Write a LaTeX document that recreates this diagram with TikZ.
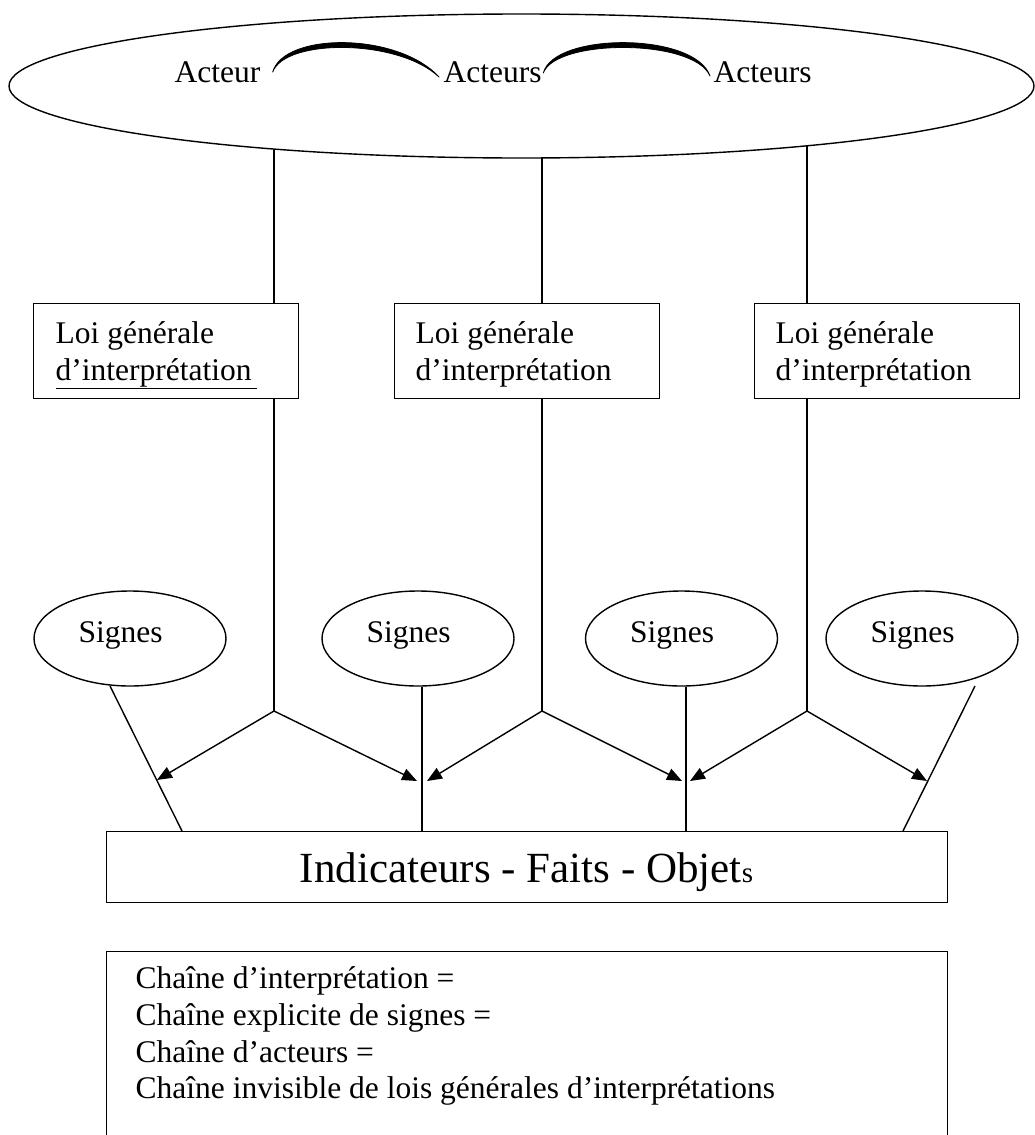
\documentclass[tikz,border=0pt]{standalone}
\usepackage{fontspec}
\setmainfont{Liberation Serif}
\usetikzlibrary{shapes.geometric,arrows.meta}
\begin{document}
\begin{tikzpicture}[x=1pt,y=-1pt,line width=1.4pt,
  txt/.style={inner sep=0pt,anchor=base west,font=\fontsize{31.5}{37.5}\selectfont},
  lawbox/.style={draw,rectangle,minimum width=265pt,minimum height=95pt,anchor=north west,inner sep=0pt},
  signe/.style={draw,ellipse,minimum width=192pt,minimum height=95pt,inner sep=0pt},
  arr/.style={-{Triangle[length=15pt,width=12pt]}},
  bigbox/.style={draw,rectangle,minimum width=841pt,anchor=north west,inner sep=0pt},
  brush/.style={fill=black,draw=black,line width=0.8pt,line join=round}]
\useasboundingbox (0,0) rectangle (1034,1135);

% top ellipse with actors
\node[draw,ellipse,minimum width=1025pt,minimum height=144pt,inner sep=0pt] (actors) at (521.5,86) {};
\node[txt] (a1) at (174,82) {Acteur};
\node[txt] (a2) at (443,82) {Acteurs};
\node[txt] (a3) at (713,82) {Acteurs};
\path[brush] (272.7,72) .. controls (284,32) and (398,32) .. (439,77)
      .. controls (398,38.5) and (285,38.5) .. (272.7,72) -- cycle;
\path[brush] (543.3,73) .. controls (554,32) and (695,32) .. (710,76)
      .. controls (694,38.5) and (556,38.5) .. (543.3,73) -- cycle;

% law boxes
\node[lawbox] (l1) at (33,303) {};
\node[lawbox] (l2) at (394,303) {};
\node[lawbox] (l3) at (754,303) {};
\node[txt] (l1a) at (55,343) {Loi générale};
\node[txt] (l1b) at (55,380) {\underline{d’interprétation\hspace{5pt}}};
\node[txt] (l2a) at (415,343) {Loi générale};
\node[txt] (l2b) at (415,380) {d’interprétation};
\node[txt] (l3a) at (775,343) {Loi générale};
\node[txt] (l3b) at (775,380) {d’interprétation};

% connection points
\coordinate (e1) at (274,149);
\coordinate (e2) at (542,158);
\coordinate (e3) at (807,146);
\coordinate (j1) at (274,711);
\coordinate (j2) at (542,711);
\coordinate (j3) at (807,711);

\draw (e1) -- (l1.north -| e1);
\draw (e2) -- (l2.north -| e2);
\draw (e3) -- (l3.north -| e3);
\draw (l1.south -| j1) -- (j1);
\draw (l2.south -| j2) -- (j2);
\draw (l3.south -| j3) -- (j3);

% signes
\node[signe] (s1) at (130,638.5) {};
\node[signe] (s2) at (418,638.5) {};
\node[signe] (s3) at (681.5,638.5) {};
\node[signe] (s4) at (922,638.5) {};
\node[txt] (s1t) at (78,642) {Signes};
\node[txt] (s2t) at (366,642) {Signes};
\node[txt] (s3t) at (629.5,642) {Signes};
\node[txt] (s4t) at (870,642) {Signes};

% bottom box
\node[bigbox,minimum height=71pt] (ind) at (106,831) {};
\node[inner sep=0pt,anchor=base,font=\fontsize{43}{50}\selectfont] (indt) at (526.5,882)
  {Indicateurs - Faits - Objet{\fontsize{29}{32}\selectfont s}};

% lines from signes to the bottom box
\coordinate (s1b) at (110,686);
\coordinate (s4b) at (975,686);
\coordinate (i1) at (182,831);
\coordinate (i4) at (903,831);
\draw (s1b) -- (i1);
\draw (s2.south -| 422,0) -- (ind.north -| 422,0);
\draw (s3.south -| 686,0) -- (ind.north -| 686,0);
\draw (s4b) -- (i4);

% arrows
\coordinate (t1) at (157,780);
\coordinate (t2) at (417,781);
\coordinate (t3) at (427,781);
\coordinate (t4) at (682,781);
\coordinate (t5) at (690,781);
\coordinate (t6) at (927,781);
\draw[arr] (j1) -- (t1);
\draw[arr] (j1) -- (t2);
\draw[arr] (j2) -- (t3);
\draw[arr] (j2) -- (t4);
\draw[arr] (j3) -- (t5);
\draw[arr] (j3) -- (t6);

% chain box
\node[bigbox,minimum height=200pt] (chain) at (106,951) {};
\node[txt] (c1) at (135,988) {Chaîne d’interprétation =};
\node[txt] (c2) at (135,1025) {Chaîne explicite de signes =};
\node[txt] (c3) at (135,1062) {Chaîne d’acteurs =};
\node[txt] (c4) at (135,1098) {Chaîne invisible de lois générales d’interprétations};
\end{tikzpicture}
\end{document}
